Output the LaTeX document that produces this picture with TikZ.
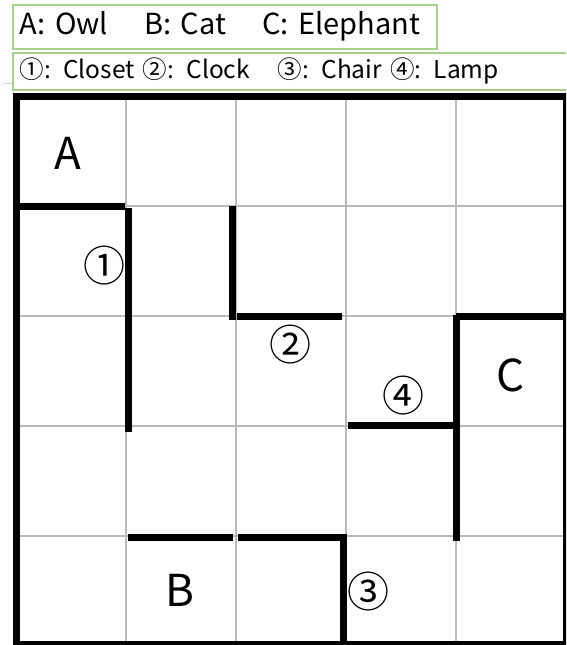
\documentclass[tikz,border=0pt]{standalone}
\usepackage{fontspec}
\setmainfont{Noto Sans CJK JP}
\usepackage{tikz}
\usepackage{xcolor}
\usetikzlibrary{positioning}
\definecolor{legendgreen}{RGB}{169, 209, 142}
\definecolor{gridgrey}{RGB}{185, 185, 185}
\definecolor{faintgrey}{RGB}{215, 215, 215}

\begin{document}
\begin{tikzpicture}[x=1pt, y=-1pt,
  legendbox/.style={rectangle, draw=legendgreen, line width=1.5pt, anchor=north west, align=left, inner xsep=7pt, inner ysep=0pt},
  wall/.style={line width=7pt},
  gridline/.style={draw=gridgrey, line width=1.5pt},
  roomlabel/.style={font=\fontsize{44}{44}\selectfont},
  itemlabel/.style={font=\fontsize{42}{42}\selectfont}]
\useasboundingbox (0,0) rectangle (566,645);
\clip (0,0) rectangle (566,645);

% legend
\node[legendbox, text width=410pt, minimum height=44pt, font=\fontsize{29}{29}\selectfont] (animals) at (12,4) {A: Owl\hspace*{36pt}B: Cat\hspace*{36pt}C: Elephant};
\node[legendbox, text width=600pt, minimum height=37pt, font=\fontsize{24.5}{24.5}\selectfont] (furniture) at (12,52) {①: Closet ②: Clock\hspace*{28pt}③: Chair ④: Lamp};
\draw[faintgrey, line width=0.8pt] (3,83) -- (furniture.west |- 0,83);

% grid
\foreach \i in {1,...,4} {
  \draw[gridline] (16+110*\i,96) -- (16+110*\i,644);
  \draw[gridline] (16,96+110*\i) -- (566,96+110*\i);
}
\draw[wall] (16,96) rectangle (566,644);

% walls
\draw[wall] (16,206) -- (125,206);
\draw[wall] (128,208) -- (128,432);
\draw[wall] (232,206) -- (232,320);
\draw[wall] (237,316) -- (342,316);
\draw[wall] (348,425) -- (457,425);
\draw[wall] (456,315) -- (456,541);
\draw[wall] (456,316) -- (566,316);
\draw[wall] (128,537) -- (233,537);
\draw[wall] (238,537) -- (343,537) -- (343,644);

% rooms and items
\node[roomlabel] (owl) at (68,153) {A};
\node[roomlabel] (cat) at (180,590) {B};
\node[roomlabel] (elephant) at (511,375) {C};
\node[itemlabel] (closet) at (104,266) {①};
\node[itemlabel] (clock) at (290,345) {②};
\node[itemlabel] (chair) at (368,592) {③};
\node[itemlabel] (lamp) at (403,396) {④};
\end{tikzpicture}
\end{document}
